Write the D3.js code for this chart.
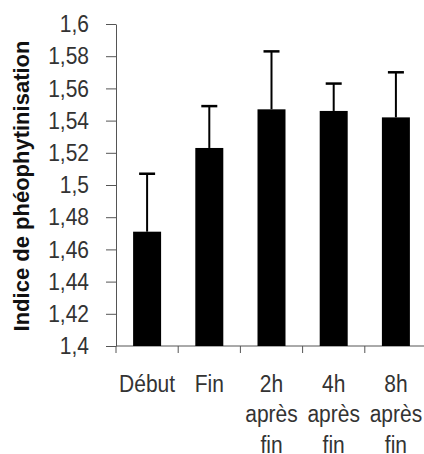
<!DOCTYPE html>
<html lang="fr">
<head>
<meta charset="UTF-8">
<title>Indice de phéophytinisation</title>
<script src="https://d3js.org/d3.v7.min.js"></script>
<style>
    body { margin: 0; background: #fff; }
    svg { display: block; font-family: "Liberation Sans", Arial, sans-serif; }
    .axis path, .axis line { stroke: #555; }
    .axis text { fill: #333; font-size: 21px; }
</style>
</head>
<body>
<div id="chart"></div>
<script>
// data
const categories = ["Début", "Fin", "2h après fin", "4h après fin", "8h après fin"];
const labelLines = [["Début"], ["Fin"], ["2h", "après", "fin"], ["4h", "après", "fin"], ["8h", "après", "fin"]];
const means = [1.471, 1.523, 1.547, 1.546, 1.542];
const sd = [0.036, 0.026, 0.036, 0.017, 0.028];
const yTicks = [1.4, 1.42, 1.44, 1.46, 1.48, 1.5, 1.52, 1.54, 1.56, 1.58, 1.6];
const yTickLabels = ["1,4", "1,42", "1,44", "1,46", "1,48", "1,5", "1,52", "1,54", "1,56", "1,58", "1,6"];
const yTitle = "Indice de phéophytinisation";

const W = 424, H = 454;
const x0 = 116, y0 = 346, yTop = 24, step = 62.2;
const stretch = 1.15; // text in the picture is a bit tall

const svg = d3.select("#chart").append("svg")
    .attr("width", W)
    .attr("height", H);

const x = d3.scaleBand()
    .domain(categories)
    .range([x0, x0 + step * categories.length])
    .paddingInner(0.55)
    .paddingOuter(0.275);

const y = d3.scaleLinear()
    .domain([1.4, 1.6])
    .range([y0, yTop]);

// y axis
const yAxis = svg.append("g")
    .attr("class", "axis")
    .attr("transform", `translate(${x0},0)`)
    .call(d3.axisLeft(y)
        .tickValues(yTicks)
        .tickFormat((d, i) => yTickLabels[i])
        .tickSize(10)
        .tickSizeOuter(0)
        .tickPadding(17));
yAxis.selectAll("text").attr("transform", `scale(1,${stretch})`);

// x axis line + ticks between categories
const xAxis = svg.append("g").attr("class", "axis");
xAxis.append("line")
    .attr("x1", x0).attr("x2", W)
    .attr("y1", y(1.4)).attr("y2", y(1.4));
xAxis.selectAll(".xt")
    .data(d3.range(categories.length + 1))
    .join("line")
    .attr("class", "xt")
    .attr("x1", i => x.range()[0] + i * x.step())
    .attr("x2", i => x.range()[0] + i * x.step())
    .attr("y1", y(1.4))
    .attr("y2", y(1.4) + 7);

// bars
svg.selectAll(".bar")
    .data(categories)
    .join("rect")
    .attr("class", "bar")
    .attr("x", d => x(d))
    .attr("width", x.bandwidth())
    .attr("y", (d, i) => y(means[i]))
    .attr("height", (d, i) => y(1.4) - y(means[i]))
    .attr("fill", "#000");

// error bars (upper only)
const err = svg.selectAll(".err")
    .data(categories)
    .join("g")
    .attr("class", "err")
    .attr("stroke", "#000");
err.append("line")
    .attr("x1", d => x(d) + x.bandwidth() / 2)
    .attr("x2", d => x(d) + x.bandwidth() / 2)
    .attr("y1", (d, i) => y(means[i]))
    .attr("y2", (d, i) => y(means[i] + sd[i]))
    .attr("stroke-width", 2);
err.append("line")
    .attr("x1", d => x(d) + x.bandwidth() / 2 - 8)
    .attr("x2", d => x(d) + x.bandwidth() / 2 + 8)
    .attr("y1", (d, i) => y(means[i] + sd[i]))
    .attr("y2", (d, i) => y(means[i] + sd[i]))
    .attr("stroke-width", 2.5);

// category labels
const labels = svg.selectAll(".xlab")
    .data(categories)
    .join("g")
    .attr("class", "xlab")
    .attr("transform", d => `translate(${x(d) + x.bandwidth() / 2},392) scale(1,${stretch})`);
labels.append("text")
    .attr("text-anchor", "middle")
    .attr("fill", "#333")
    .style("font-size", "21px")
    .selectAll("tspan")
    .data((d, i) => labelLines[i])
    .join("tspan")
    .attr("x", 0)
    .attr("y", (d, j) => j * 26.5)
    .text(d => d);

// y title
svg.append("text")
    .attr("transform", "translate(29,186) rotate(-90)")
    .attr("text-anchor", "middle")
    .attr("fill", "#111")
    .style("font-size", "22px")
    .style("font-weight", "bold")
    .text(yTitle);
</script>
</body>
</html>
